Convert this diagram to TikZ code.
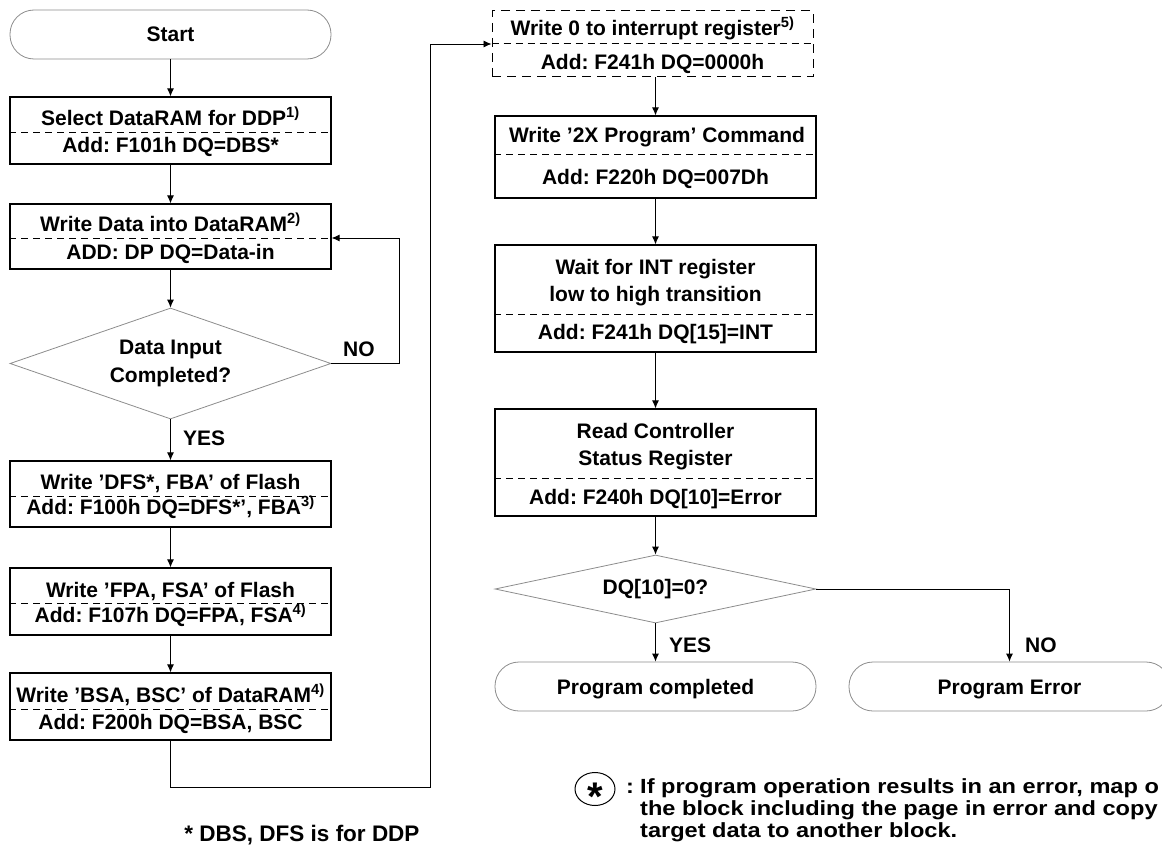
\documentclass[tikz,border=0pt]{standalone}
\usepackage{fontspec}
\setmainfont{Liberation Sans}
\newfontfamily\widefont[FakeStretch=1.15]{Liberation Sans}
\frenchspacing
\usetikzlibrary{shapes.geometric,arrows.meta}

\tikzset{
  txt/.style={font=\fontsize{21}{27}\selectfont\bfseries, text height=20pt, text depth=5pt, inner sep=0pt},
  box/.style={draw, line width=1.2pt, minimum width=321pt, inner sep=0pt},
  intbox/.style={draw, dash pattern=on 9pt off 6pt, line width=1pt, minimum width=321pt, inner sep=0pt},
  term/.style={txt, draw=black!45, line width=0.8pt, rounded corners=24pt, minimum width=321pt, minimum height=49pt},
  decide/.style={diamond, aspect=3, draw=black!45, line width=0.8pt, inner sep=0pt, align=center, font=\fontsize{21}{28}\selectfont\bfseries},
  split/.style={dash pattern=on 7pt off 5pt, line width=0.8pt},
  arr/.style={-{Latex[length=8pt,width=7pt]}, line width=0.9pt},
  note/.style={font=\widefont\fontsize{20.5}{22}\selectfont\bfseries, inner sep=0pt, anchor=base west}
}

\begin{document}
\begin{tikzpicture}[x=1pt, y=-1pt]
    \clip (0,0) rectangle (1162,848);

    % Start
    \node[term] (start) at (170.5,34.5) {Start};

    % Select DataRAM
    \node[box, minimum height=67pt] (sel) at (170.5,130.5) {};
    \draw[split] (sel.west |- 0,132) -- (sel.east |- 0,132);
    \node[txt] (selA) at (170.5,118) {Select DataRAM for DDP\textsuperscript{1)}};
    \node[txt] (selB) at (170.5,145) {Add: F101h DQ=DBS*};

    % Write data into DataRAM
    \node[box, minimum height=65pt] (wdr) at (170.5,236.5) {};
    \draw[split] (wdr.west |- 0,238) -- (wdr.east |- 0,238);
    \node[txt] (wdrA) at (170.5,224) {Write Data into DataRAM\textsuperscript{2)}};
    \node[txt] (wdrB) at (170.5,252) {ADD: DP DQ=Data-in};

    % Data input completed?
    \node[decide, minimum width=321pt, minimum height=111pt] (dec1) at (170.5,363.5) {Data Input\\Completed?};
    \node[txt, anchor=west] (noA) at (343,349) {NO};
    \node[txt, anchor=west] (yesA) at (183,438) {YES};

    % DFS, FBA
    \node[box, minimum height=66pt] (fba) at (170.5,494) {};
    \draw[split] (fba.west |- 0,496) -- (fba.east |- 0,496);
    \node[txt] (fbaA) at (170.5,482) {Write 'DFS*, FBA' of Flash};
    \node[txt] (fbaB) at (170.5,507) {Add: F100h DQ=DFS*', FBA\textsuperscript{3)}};

    % FPA, FSA
    \node[box, minimum height=67pt] (fpa) at (170.5,601.5) {};
    \draw[split] (fpa.west |- 0,603) -- (fpa.east |- 0,603);
    \node[txt] (fpaA) at (170.5,590) {Write 'FPA, FSA' of Flash};
    \node[txt] (fpaB) at (170.5,615) {Add: F107h DQ=FPA, FSA\textsuperscript{4)}};

    % BSA, BSC
    \node[box, minimum height=67pt] (bsa) at (170.5,706.5) {};
    \draw[split] (bsa.west |- 0,709) -- (bsa.east |- 0,709);
    \node[txt] (bsaA) at (170.5,695) {Write 'BSA, BSC' of DataRAM\textsuperscript{4)}};
    \node[txt] (bsaB) at (170.5,722) {Add: F200h DQ=BSA, BSC};

    % Interrupt register
    \node[intbox, minimum height=66pt] (int) at (652.5,44) {};
    \draw[split] (int.west |- 0,43) -- (int.east |- 0,43);
    \node[txt] (intA) at (652.5,28) {Write 0 to interrupt register\textsuperscript{5)}};
    \node[txt] (intB) at (652.5,62) {Add: F241h DQ=0000h};

    % 2X program command
    \node[box, minimum height=82pt] (cmd) at (655.5,157) {};
    \draw[split] (cmd.west |- 0,154) -- (cmd.east |- 0,154);
    \node[txt] (cmdA) at (657,135) {Write '2X Program' Command};
    \node[txt] (cmdB) at (655.5,177) {Add: F220h DQ=007Dh};

    % Wait for INT
    \node[box, minimum height=107pt] (wait) at (655.5,298.5) {};
    \draw[split] (wait.west |- 0,314) -- (wait.east |- 0,314);
    \node[txt] (waitA) at (655.5,267) {Wait for INT register};
    \node[txt] (waitB) at (655.5,294) {low to high transition};
    \node[txt] (waitC) at (655.5,332) {Add: F241h DQ[15]=INT};

    % Read controller status
    \node[box, minimum height=107pt] (rdst) at (655.5,462.5) {};
    \draw[split] (rdst.west |- 0,478) -- (rdst.east |- 0,478);
    \node[txt] (rdstA) at (655.5,431) {Read Controller};
    \node[txt] (rdstB) at (655.5,458) {Status Register};
    \node[txt] (rdstC) at (655.5,497) {Add: F240h DQ[10]=Error};

    % DQ[10]=0?
    \node[decide, minimum width=321pt, minimum height=68pt] (dec2) at (655.5,589) {\raisebox{-2pt}{DQ[10]=0?}};
    \node[txt, anchor=west] (yesB) at (669,645) {YES};
    \node[txt, anchor=west] (noB) at (1025,645) {NO};

    % End states
    \node[term] (done) at (655.5,686.5) {Program completed};
    \node[term] (err) at (1009.5,686.5) {Program Error};

    % Connectors
    \draw[arr] (start) -- (sel);
    \draw[arr] (sel) -- (wdr);
    \draw[arr] (wdr) -- (dec1);
    \coordinate (loopA) at (399,238);
    \draw[arr] (dec1.east) -| (loopA) -- (wdr.east |- loopA);
    \draw[arr] (dec1) -- (fba);
    \draw[arr] (fba) -- (fpa);
    \draw[arr] (fpa) -- (bsa);
    \coordinate (jumpA) at (430,787);
    \draw[arr] (bsa.south) |- (jumpA) |- (int.west);
    \draw[arr] (cmd.north |- int.south) -- (cmd.north);
    \draw[arr] (cmd) -- (wait);
    \draw[arr] (wait) -- (rdst);
    \draw[arr] (rdst) -- (dec2);
    \draw[arr] (dec2) -- (done);
    \draw[arr] (dec2.east) -| (err.north);

    % Notes
    \node[font=\fontsize{22.5}{27}\selectfont\bfseries, anchor=base, inner sep=0pt] (ddpnote) at (302,841) {* DBS, DFS is for DDP};
    \node[draw, ellipse, line width=1pt, minimum width=40pt, minimum height=33pt, inner sep=0pt] (starring) at (595,789) {};
    \node[font=\fontsize{40}{40}\selectfont\bfseries, inner sep=0pt] (starsym) at (595,797) {*};
    \node[note] (colonA) at (626,793) {:};
    \node[note, align=left] (errA) at (640,837) {If program operation results in an error, map o\\
        the block including the page in error and copy\\
        target data to another block.};
\end{tikzpicture}
\end{document}
